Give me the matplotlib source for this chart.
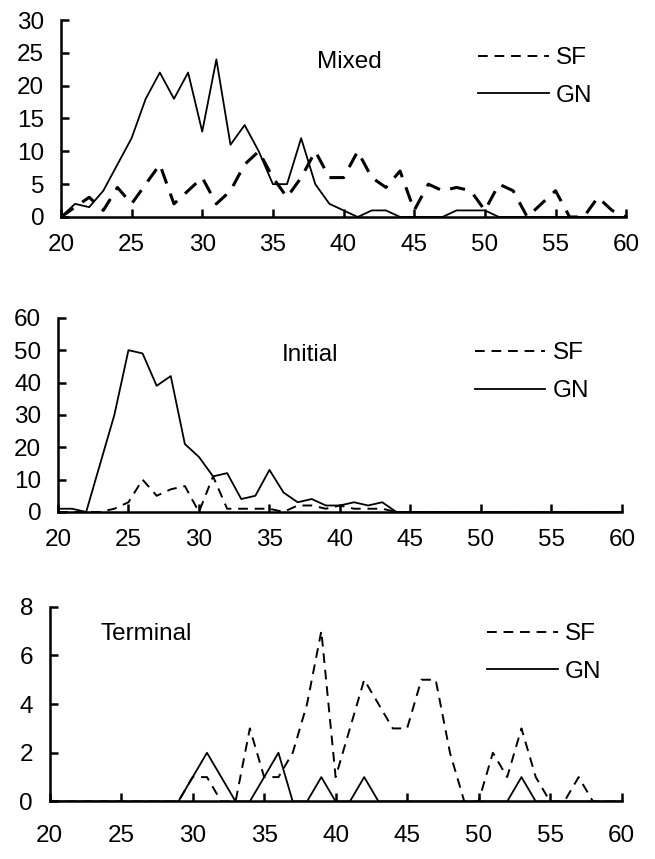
import numpy as np
import matplotlib
matplotlib.use("Agg")
import matplotlib.pyplot as plt

plt.rcParams['font.family'] = ['Liberation Sans', 'DejaVu Sans']

age = np.arange(20, 61)

# Mixed
mixed_sf = [0, 1.5, 3, 1, 4.5, 2, 5, 8, 2, 4, 6, 2, 4, 8, 10, 6, 3, 6, 10, 6,
            6, 10, 6, 4.5, 7, 1, 5, 4, 4.5, 4, 1, 5, 4, 0, 2, 4, 0, 0, 3, 1, 0]
mixed_gn = [0, 2, 1.5, 4, 8, 12, 18, 22, 18, 22, 13, 24, 11, 14, 10, 5, 5, 12, 5, 2,
            1, 0, 1, 1, 0, 0, 0, 0, 1, 1, 1, 0, 0, 0, 0, 0, 0, 0, 0, 0, 0]

# Initial
init_sf = [0, 0, 0, 0, 1, 3, 10, 5, 7, 8, 0, 11, 1, 1, 1, 1, 0, 2, 2, 1,
           2, 1, 1, 1, 0, 0, 0, 0, 0, 0, 0, 0, 0, 0, 0, 0, 0, 0, 0, 0, 0]
init_gn = [1, 1, 0, 15, 30, 50, 49, 39, 42, 21, 17, 11, 12, 4, 5, 13, 6, 3, 4, 2,
           2, 3, 2, 3, 0, 0, 0, 0, 0, 0, 0, 0, 0, 0, 0, 0, 0, 0, 0, 0, 0]

# Terminal
term_sf = [0, 0, 0, 0, 0, 0, 0, 0, 0, 0, 1, 1, 0, 0, 3, 1, 1, 2, 4, 7,
           1, 3, 5, 4, 3, 3, 5, 5, 2, 0, 0, 2, 1, 3, 1, 0, 0, 1, 0, 0, 0]
term_gn = [0, 0, 0, 0, 0, 0, 0, 0, 0, 0, 1, 2, 1, 0, 0, 1, 2, 0, 0, 1,
           0, 0, 1, 0, 0, 0, 0, 0, 0, 0, 0, 0, 0, 1, 0, 0, 0, 0, 0, 0, 0]

FS = 17.5

panels = [
    # rect, title, title pos, sf, gn, ymax, ystep, legend anchor, sf lw, x pad
    ([0.093, 0.7474, 0.863, 0.2293], 'Mixed', (0.453, 0.785), mixed_sf, mixed_gn, 30, 5, (0.738, 0.711), 2.2, 12),
    ([0.0885, 0.4040, 0.861, 0.2260], 'Initial', (0.397, 0.807), init_sf, init_gn, 60, 10, (0.739, 0.72), 1.4, 12),
    ([0.0759, 0.0670, 0.873, 0.2267], 'Terminal', (0.088, 0.86), term_sf, term_gn, 8, 2, (0.765, 0.762), 1.4, 17),
]

fig = plt.figure(figsize=(6.55, 8.59), dpi=100)

for rect, title, tpos, sf, gn, ymax, ystep, lpos, sflw, xpad in panels:
    ax = fig.add_axes(rect)
    ax.plot(age, sf, color='black', lw=sflw, dashes=(5, 3.5), label='SF')
    ax.plot(age, gn, color='black', lw=1.3, label='GN')
    ax.set_xlim(20, 60)
    ax.set_ylim(0, ymax)
    ax.set_xticks(np.arange(20, 61, 5))
    ax.set_yticks(np.arange(0, ymax + 1, ystep))
    for s in ['top', 'right']:
        ax.spines[s].set_visible(False)
    for s in ['left', 'bottom']:
        ax.spines[s].set_linewidth(1.8)
    ax.tick_params(axis='both', direction='in', width=1.8, length=6, labelsize=FS)
    ax.tick_params(axis='x', pad=xpad)
    ax.tick_params(axis='y', pad=12)
    ax.text(tpos[0], tpos[1], title, transform=ax.transAxes, fontsize=FS,
            ha='left', va='center')
    leg = ax.legend(loc='center left', bbox_to_anchor=lpos, frameon=False, fontsize=FS,
                    handlelength=2.9, handletextpad=0.3, labelspacing=0.65,
                    borderaxespad=0, borderpad=0)
    leg.get_lines()[0].set_linewidth(1.4)
    leg.get_lines()[0].set_dashes((5, 3.5))

fig.savefig('out.png', dpi=100)
